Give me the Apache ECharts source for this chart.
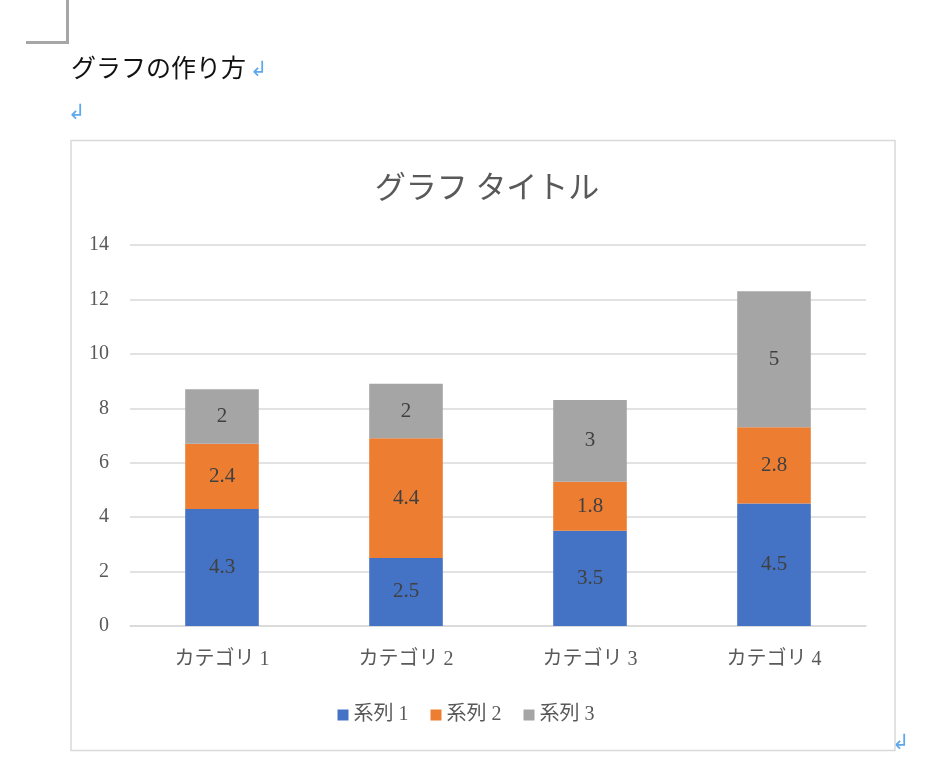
<!DOCTYPE html>
<html>
<head>
<meta charset="utf-8">
<script src="https://cdn.jsdelivr.net/npm/echarts@6/dist/echarts.min.js"></script>
<style>
html,body{margin:0;padding:0;background:#fff;}
#c{width:932px;height:772px;}
</style>
</head>
<body>
<div id="c"></div>
<script>
const categories = ['カテゴリ 1', 'カテゴリ 2', 'カテゴリ 3', 'カテゴリ 4'];
const seriesNames = ['系列 1', '系列 2', '系列 3'];
const series1 = [4.3, 2.5, 3.5, 4.5];
const series2 = [2.4, 4.4, 1.8, 2.8];
const series3 = [2, 2, 3, 5];
const colors = ['#4472c4', '#ed7d31', '#a5a5a5'];
const chartTitle = 'グラフ タイトル';
const docHeading = 'グラフの作り方';

const serif = "'Liberation Serif', 'Noto Sans CJK JP', serif";
const chart = echarts.init(document.getElementById('c'), null, {renderer: 'canvas'});

function mk(name, data, color) {
  return {
    name: name, type: 'bar', stack: 'total', data: data, barWidth: '40%',
    itemStyle: {color: color},
    label: {show: true, position: 'inside', color: '#404040', fontSize: 21, fontFamily: serif},
    emphasis: {disabled: true}
  };
}

const arrow = (x, y) => ({
  type: 'text', left: x, top: y, silent: true,
  style: {text: '↲', fill: '#5fa8ee', font: '21px "DejaVu Sans"'}
});

chart.setOption({
  animation: false,
  color: colors,
  title: {
    text: chartTitle, left: 482, top: 169, textAlign: 'center',
    textStyle: {color: '#595959', fontSize: 31, fontWeight: 'normal', fontFamily: serif}
  },
  legend: {
    data: seriesNames, bottom: 42, left: 'center', itemWidth: 11, itemHeight: 11, itemGap: 22,
    icon: 'rect',
    textStyle: {color: '#595959', fontSize: 20, fontFamily: serif}
  },
  grid: {left: 130, right: 66, top: 245, bottom: 146, containLabel: false},
  xAxis: {
    type: 'category', data: categories,
    axisLine: {lineStyle: {color: '#d9d9d9', width: 1.5}},
    axisTick: {show: false},
    axisLabel: {color: '#595959', fontSize: 20, fontFamily: serif, margin: 24}
  },
  yAxis: {
    type: 'value', min: 0, max: 14, interval: 2,
    axisLine: {show: false}, axisTick: {show: false},
    splitLine: {lineStyle: {color: '#d9d9d9', width: 1.5}},
    axisLabel: {color: '#595959', fontSize: 20, fontFamily: serif, margin: 21}
  },
  series: [mk(seriesNames[0], series1, colors[0]), mk(seriesNames[1], series2, colors[1]), mk(seriesNames[2], series3, colors[2])],
  graphic: [
    {type: 'line', silent: true, shape: {x1: 67.5, y1: 0, x2: 67.5, y2: 44}, style: {stroke: '#a6a6a6', lineWidth: 3}},
    {type: 'line', silent: true, shape: {x1: 26, y1: 42.5, x2: 69, y2: 42.5}, style: {stroke: '#a6a6a6', lineWidth: 3}},
    {type: 'text', left: 71, top: 55, silent: true, style: {text: docHeading, fill: '#111', font: '25px "Noto Sans CJK JP"'}},
    arrow(250, 60), arrow(68, 103), arrow(892, 733),
    {type: 'rect', silent: true, shape: {x: 71, y: 140.5, width: 824, height: 610}, style: {fill: 'none', stroke: '#d9d9d9', lineWidth: 1.5}}
  ]
});
</script>
</body>
</html>
